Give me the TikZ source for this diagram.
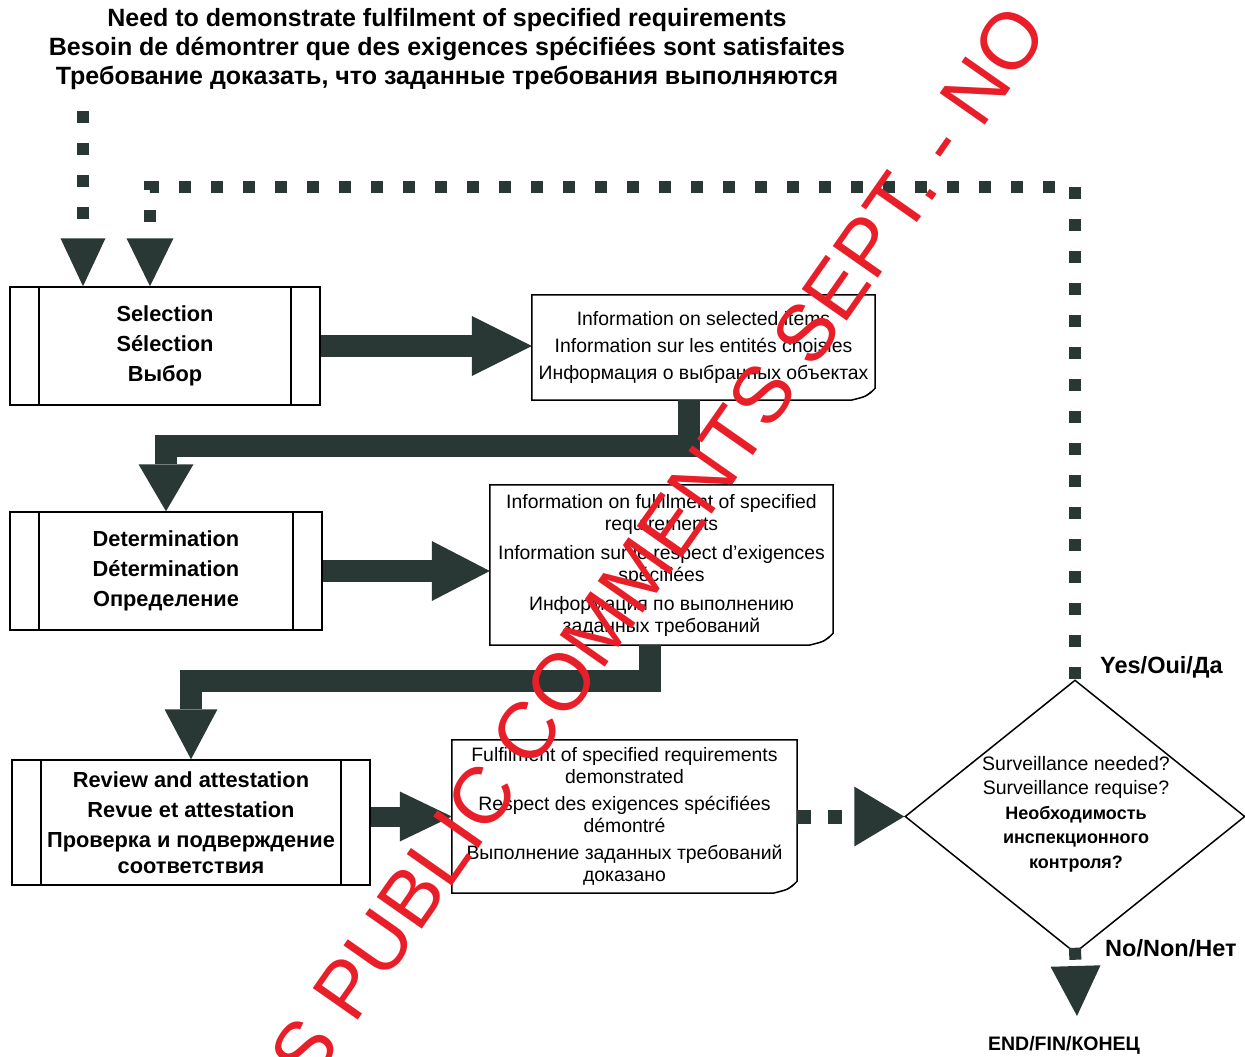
\documentclass[tikz,border=0pt]{standalone}
\usepackage{fontspec}
\setmainfont{Liberation Sans}
\usetikzlibrary{arrows.meta,shapes.geometric,calc}
\definecolor{arr}{RGB}{42,56,53}
\definecolor{wm}{RGB}{232,30,40}
\begin{document}
\begin{tikzpicture}[x=1pt,y=-1pt,
  proc/.style={draw=black, line width=1.5pt, inner sep=0pt, align=center,
    font=\fontsize{21.8}{30}\selectfont\bfseries,
    path picture={
      \draw[line width=1.5pt] ([xshift=29pt]path picture bounding box.north west) -- ([xshift=29pt]path picture bounding box.south west);
      \draw[line width=1.5pt] ([xshift=-29pt]path picture bounding box.north east) -- ([xshift=-29pt]path picture bounding box.south east);}},
  docbox/.style={inner sep=0pt, align=center, font=\fontsize{19.4}{22}\selectfont},
  bigarr/.style n args={2}{draw=arr, line width=22pt, line join=miter,
    -{Triangle[length=#1pt, width=#2pt, line width=0pt, fill=arr]}},
  dotarr/.style n args={4}{draw=arr, line width=#1pt, dash pattern=on #1pt off #2pt, line join=miter,
    -{Triangle[length=#3pt, width=#4pt, line width=0pt, fill=arr]}},
  lbl/.style={inner sep=0pt, font=\fontsize{23.5}{25}\selectfont\bfseries}
]
\useasboundingbox (0,0) rectangle (1245,1057);

% title
\node[align=center, inner sep=0pt, font=\fontsize{25}{29}\selectfont\bfseries] (title) at (447,49)
  {Need to demonstrate fulfilment of specified requirements\\
   Besoin de démontrer que des exigences spécifiées sont satisfaites\\
   Требование доказать, что заданные требования выполняются};

% process boxes
\node[proc, minimum width=310pt, minimum height=118pt] (sel) at (165,346)
  {Selection\\Sélection\\Выбор};
\node[proc, minimum width=312pt, minimum height=118pt] (det) at (166,571)
  {Determination\\Détermination\\Определение};
\node[proc, minimum width=358pt, minimum height=125pt] (rev) at (191,822.5)
  {Review and attestation\\Revue et attestation\\Проверка и подверждение\\[-4pt]соответствия};

% document boxes
\node[docbox, minimum width=343pt, minimum height=105pt] (info1) at (703.5,347.5)
  {Information on selected items\\[5pt]Information sur les entités choisies\\[5pt]Информация о выбранных объектах};
\node[docbox, minimum width=343pt, minimum height=160pt] (info2) at (661.5,565)
  {Information on fulfilment of specified\\requirements\\[7pt]Information sur le respect d'exigences\\spécifiées\\[7pt]Информация по выполнению\\заданных требований};
\node[docbox, minimum width=345pt, minimum height=153pt] (info3) at (624.5,816.5)
  {Fulfilment of specified requirements\\demonstrated\\[5pt]Respect des exigences spécifiées\\démontré\\[5pt]Выполнение заданных требований\\доказано};
\foreach \n in {info1,info2,info3}{
  \draw[line width=1.5pt, line join=miter] (\n.north west) -- (\n.north east) -- ([yshift=12pt]\n.south east)
     .. controls ([xshift=-8pt,yshift=4pt]\n.south east) .. ([xshift=-24pt]\n.south east) -- (\n.south west) -- cycle;
  \fill ([yshift=12pt]\n.south east) .. controls ([xshift=-8pt,yshift=4pt]\n.south east) .. ([xshift=-24pt]\n.south east)
     -- ([xshift=-12pt,yshift=3pt]\n.south east) -- cycle;
}

% decision
\node[diamond, draw=black, line width=1.5pt, minimum width=340pt, minimum height=273pt, inner sep=0pt] (dec) at (1075,816.5) {};
\node[align=center, inner sep=0pt, font=\fontsize{19.5}{24.5}\selectfont] (dectext) at (1076,814)
  {Surveillance needed?\\Surveillance requise?\\\fontsize{18}{24.5}\selectfont\bfseries Необходимость\\\fontsize{18}{24.5}\selectfont\bfseries инспекционного\\\fontsize{18}{24.5}\selectfont\bfseries контроля?};

\node[lbl, anchor=west] (yes) at (1100,667) {Yes/Oui/Да};
\node[lbl, anchor=west] (no) at (1105,948) {No/Non/Нет};
\node[inner sep=0pt, font=\fontsize{19.5}{22}\selectfont\bfseries] (end) at (1064,1045) {END/FIN/КОНЕЦ};
\coordinate (endtip) at (1077,1016);

% coordinates for dashed flows
\coordinate (start) at (83,111);
\coordinate (fbk) at (150,187);

% connectors
\draw[dotarr={12}{20}{48}{45}] (start) -- (sel.north -| start);
\draw[dotarr={12}{20}{48}{47}] (dec.north) |- (fbk) -- (sel.north -| fbk);
\draw[bigarr={60}{60}] (sel.east) -- (sel.east -| info1.west);
\draw[bigarr={47}{55}] ([xshift=-14.5pt]info1.south) |- ($(det.north)+(0,-65)$) -- (det.north);
\draw[bigarr={58}{60}] (det.east) -- (det.east -| info2.west);
\draw[bigarr={50}{53}] ([xshift=-11.5pt]info2.south) |- ($(rev.north)+(0,-78)$) -- (rev.north);
\draw[bigarr={52}{50}, line width=20pt] (info3.west -| rev.east) -- (info3.west);
\draw[dotarr={14}{17}{50}{60}] (info3.east) -- (dec.west);
\draw[dotarr={12}{20}{50}{50}] ([yshift=6pt]dec.south) -- (endtip);

% watermark
\begin{scope}
\clip (0,0) rectangle (1245,1057);
\node[anchor=base west, rotate=55, inner sep=0pt, text=wm, font=\fontsize{80}{80}\selectfont] (wmark) at (311,1088)
  {S PUBLIC COMMENTS SEPT. - NO};
\end{scope}
\end{tikzpicture}
\end{document}
